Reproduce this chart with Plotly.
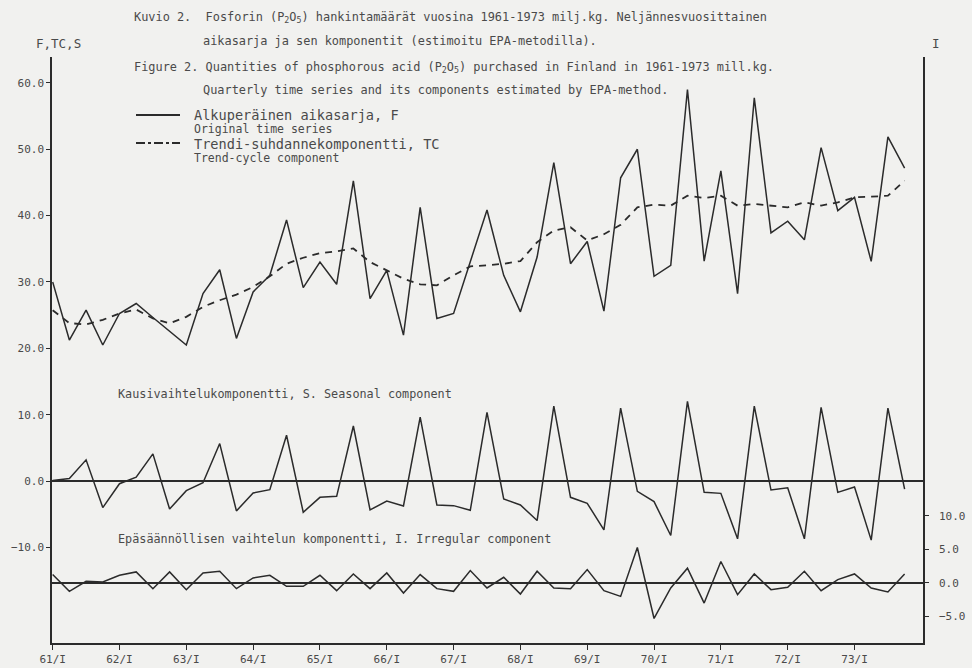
import plotly.graph_objects as go

# ---------------- data ----------------
quarter_index = list(range(52))
year_tick_pos = [0, 4, 8, 12, 16, 20, 24, 28, 32, 36, 40, 44, 48]
year_tick_labels = ["61/I", "62/I", "63/I", "64/I", "65/I", "66/I", "67/I",
                    "68/I", "69/I", "70/I", "71/I", "72/I", "73/I"]

F = [30.0, 21.25, 25.75, 20.5, 25.25, 26.75, 24.65, 22.6, 20.5, 28.25,
     31.85, 21.5, 28.5, 31.0, 39.35, 29.15, 33.0, 29.65, 45.25, 27.5,
     31.75, 22.0, 41.25, 24.5, 25.25, 33.05, 40.85, 31.0, 25.5, 33.75,
     48.0, 32.75, 36.1, 25.6, 45.7, 50.0, 30.85, 32.5, 59.0, 33.15,
     46.75, 28.25, 57.75, 37.4, 39.15, 36.35, 50.25, 40.75, 42.75, 33.1,
     51.85, 47.15]

TC = [25.75, 23.8, 23.6, 24.3, 25.25, 25.85, 24.5, 23.75, 24.75, 26.25,
      27.25, 28.1, 29.25, 30.85, 32.75, 33.65, 34.35, 34.6, 35.05, 33.0,
      31.75, 30.5, 29.65, 29.5, 31.0, 32.35, 32.5, 32.75, 33.15, 36.0,
      37.75, 38.25, 36.25, 37.2, 38.6, 41.25, 41.65, 41.5, 43.0, 42.65,
      43.0, 41.5, 41.75, 41.5, 41.25, 42.0, 41.5, 42.0, 42.75, 42.85,
      43.0, 45.25]

S = [0.1, 0.4, 3.2, -4.0, -0.4, 0.6, 4.1, -4.2, -1.45, -0.25,
     5.65, -4.5, -1.8, -1.3, 6.9, -4.7, -2.45, -2.3, 8.3, -4.35,
     -3.0, -3.75, 9.65, -3.6, -3.7, -4.4, 10.35, -2.7, -3.6, -5.95,
     11.3, -2.45, -3.35, -7.35, 11.0, -1.55, -3.1, -8.2, 12.0, -1.7,
     -1.85, -8.7, 11.3, -1.35, -1.0, -8.7, 11.1, -1.7, -0.9, -8.9,
     11.0, -1.2]

I = [1.25, -1.25, 0.25, 0.15, 1.15, 1.65, -0.85, 1.65, -1.0, 1.5,
     1.75, -0.85, 0.75, 1.15, -0.5, -0.5, 1.15, -1.15, 1.35, -0.85,
     1.5, -1.5, 1.25, -0.85, -1.25, 1.85, -0.75, 0.85, -1.65, 1.75,
     -0.75, -0.85, 2.0, -1.15, -2.0, 5.3, -5.3, -0.75, 2.2, -3.0,
     3.2, -1.75, 1.35, -1.0, -0.65, 1.75, -1.15, 0.5, 1.35, -0.75,
     -1.35, 1.35]

left_ticks = [-10, 0, 10, 20, 30, 40, 50, 60]
right_ticks = [-5, 0, 5, 10]

# ---------------- style ----------------
W, H = 972, 668
L, R, T, B = 52, 49, 57, 25
PW, PH = W - L - R, H - T - B
INK = "#2b2b2b"
TXT = "#4a4a4a"
BG = "#f1f1ef"
MONO = "DejaVu Sans Mono, Liberation Mono, monospace"


def pfx(x):
    return (x - L) / PW


def pfy(y):
    return (H - B - y) / PH


fig = go.Figure()

fig.add_trace(go.Scatter(x=quarter_index, y=F, mode="lines",
                         line=dict(color=INK, width=1.5), name="F",
                         showlegend=False))
fig.add_trace(go.Scatter(x=quarter_index, y=TC, mode="lines",
                         line=dict(color=INK, width=1.8, dash="7px,6px"),
                         name="TC", showlegend=False))
fig.add_trace(go.Scatter(x=quarter_index, y=S, mode="lines",
                         line=dict(color=INK, width=1.5), name="S",
                         showlegend=False))
fig.add_trace(go.Scatter(x=quarter_index, y=I, mode="lines",
                         line=dict(color=INK, width=1.5), name="I",
                         yaxis="y2", showlegend=False))

# ---------------- texts ----------------
annos = []


def txt(x, y, s, size=11.8, anchor="left"):
    annos.append(dict(x=pfx(x), y=pfy(y), xref="paper", yref="paper",
                      text=s, showarrow=False, xanchor=anchor,
                      yanchor="middle", borderpad=0,
                      font=dict(family=MONO, size=size, color=TXT)))


txt(133, 17, "Kuvio 2.  Fosforin (P<sub>2</sub>O<sub>5</sub>) hankintamäärät vuosina 1961-1973 milj.kg. Neljännesvuosittainen", size=11.9)
txt(202, 41, "aikasarja ja sen komponentit (estimoitu EPA-metodilla).", size=11.9)
txt(133, 68, "Figure 2. Quantities of phosphorous acid (P<sub>2</sub>O<sub>5</sub>) purchased in Finland in 1961-1973 mill.kg.", size=11.9)
txt(202, 90, "Quarterly time series and its components estimated by EPA-method.", size=11.9)
txt(58, 43, "F,TC,S", size=12.5, anchor="center")
txt(936, 43, "I", size=12.5, anchor="center")

txt(193, 115, "Alkuperäinen aikasarja, F", size=13.6)
txt(193, 129, "Original time series", size=11.5)
txt(193, 144, "Trendi-suhdannekomponentti, TC", size=13.6)
txt(193, 158, "Trend-cycle component", size=11.5)

txt(117, 394, "Kausivaihtelukomponentti, S. Seasonal component")
txt(117, 539, "Epäsäännöllisen vaihtelun komponentti, I. Irregular component")

shapes = [
    dict(type="line", xref="paper", yref="paper",
         x0=pfx(136), x1=pfx(180), y0=pfy(115), y1=pfy(115),
         line=dict(color=INK, width=1.8)),
    dict(type="line", xref="paper", yref="paper",
         x0=pfx(136), x1=pfx(180), y0=pfy(143), y1=pfy(143),
         line=dict(color=INK, width=1.8, dash="dashdot")),
]

fig.update_layout(
    template="none",
    width=W, height=H,
    margin=dict(l=L, r=R, t=T, b=B, pad=0, autoexpand=False),
    paper_bgcolor=BG, plot_bgcolor=BG,
    font=dict(family=MONO, size=11, color=TXT),
    annotations=annos, shapes=shapes,
    xaxis=dict(range=[-0.04, 52.1], tickmode="array",
               tickvals=year_tick_pos, ticktext=year_tick_labels,
               automargin=False,
               showgrid=False, zeroline=False, showline=True,
               linecolor=INK, linewidth=1.5, ticks="outside", ticklen=5,
               tickcolor=INK, tickfont=dict(family=MONO, size=11, color=TXT)),
    yaxis=dict(range=[-24.4, 63.9], tickmode="array", tickvals=left_ticks,
               tickformat=".1f", showgrid=False, zeroline=True,
               automargin=False,
               zerolinecolor=INK, zerolinewidth=1.5, showline=True,
               linecolor=INK, linewidth=1.5, ticks="outside", ticklen=4,
               tickcolor=INK, tickfont=dict(family=MONO, size=11, color=TXT)),
    yaxis2=dict(range=[-8.96, 78.5], overlaying="y", side="right",
                tickmode="array", tickvals=right_ticks, tickformat=".1f",
                automargin=False,
                showgrid=False, zeroline=True, zerolinecolor=INK,
                zerolinewidth=1.5, showline=True, linecolor=INK,
                linewidth=1.5, ticks="outside", ticklen=4, tickcolor=INK,
                ticklabelstandoff=8,
                tickfont=dict(family=MONO, size=11, color=TXT)),
)

fig.write_html(
    "out.html",
    config={"displayModeBar": False},
    post_script="document.body.style.margin='0px';"
                "document.body.style.background='#f1f1ef';",
)
